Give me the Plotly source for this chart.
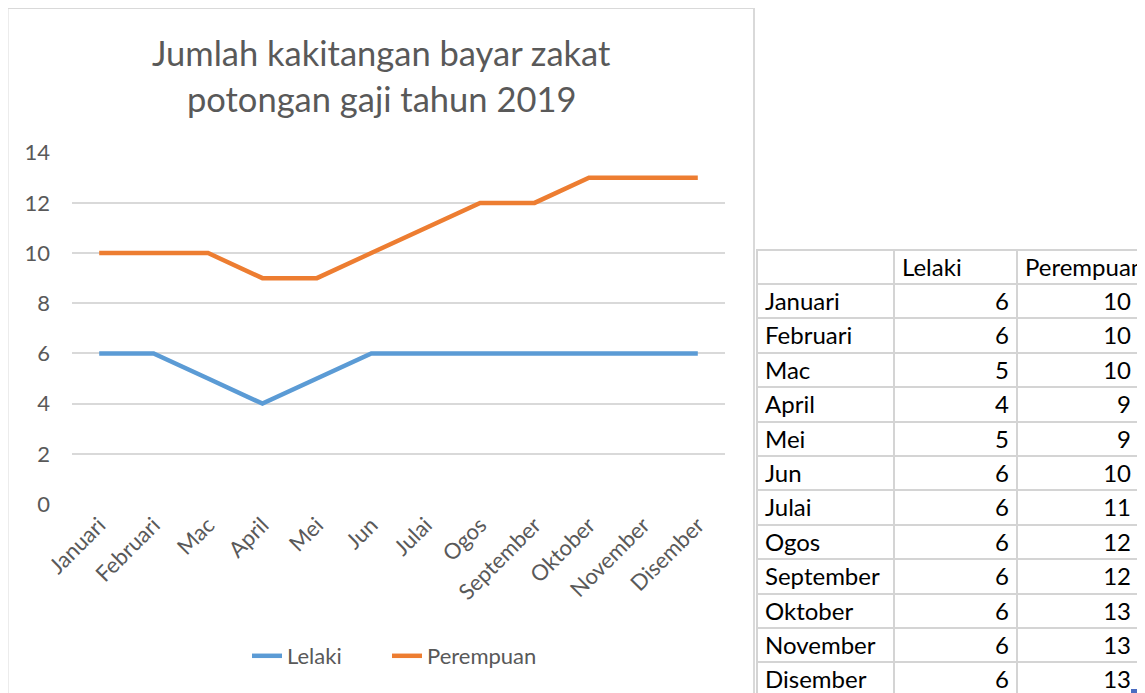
import plotly.graph_objects as go

W, H = 1145, 693
OFF = 8  # default page body margin

months = ["Januari", "Februari", "Mac", "April", "Mei", "Jun", "Julai",
          "Ogos", "September", "Oktober", "November", "Disember"]
lelaki = [6, 6, 5, 4, 5, 6, 6, 6, 6, 6, 6, 6]
perempuan = [10, 10, 10, 9, 9, 10, 11, 12, 12, 13, 13, 13]
title_lines = ["Jumlah kakitangan bayar zakat", "potongan gaji tahun 2019"]
y_ticks = [0, 2, 4, 6, 8, 10, 12, 14]

BLUE = "#5B9BD5"
ORANGE = "#ED7D31"
GREY_TXT = "#595959"
GRID = "#D9D9D9"
FONT = "Lato"


def px_x(p):
    return (p - OFF) / W


def px_y(p):
    return 1 - (p - OFF) / H


fig = go.Figure()
fig.add_trace(go.Scatter(x=months, y=lelaki, name="Lelaki", mode="lines",
                         line=dict(color=BLUE, width=4.5), legend="legend"))
fig.add_trace(go.Scatter(x=months, y=perempuan, name="Perempuan", mode="lines",
                         line=dict(color=ORANGE, width=4.5), legend="legend2"))

# Excel-style data table on the right
col_w = [137, 123, 122, 1153 - 1139]
fig.add_trace(go.Table(
    domain=dict(x=[px_x(757), 1.0], y=[0.0, px_y(249.5)]),
    columnwidth=col_w,
    header=dict(values=["", "Lelaki", "Perempuan", ""],
                align=["left", "left", "left", "left"],
                fill_color="white",
                line=dict(color="#D4D4D4", width=2),
                font=dict(family=FONT, size=24, color="black"),
                height=34.4),
    cells=dict(values=[months, lelaki, perempuan, [""] * len(months)],
               align=["left", "right", "right", "left"],
               fill_color="white",
               line=dict(color="#D4D4D4", width=2),
               font=dict(family=FONT, size=24, color="black"),
               height=34.4),
))

legend_style = dict(orientation="h", xanchor="left", yanchor="middle",
                    y=px_y(656), font=dict(size=22, color=GREY_TXT),
                    bgcolor="rgba(0,0,0,0)")

fig.update_layout(
    width=W, height=H,
    margin=dict(l=0, r=0, t=0, b=0, autoexpand=False),
    paper_bgcolor="white", plot_bgcolor="white",
    font=dict(family=FONT, color=GREY_TXT),
    xaxis=dict(domain=[px_x(72), px_x(725)], type="category",
               range=[-0.5, 11.5], showgrid=False, zeroline=False,
               showline=False, ticks="", tickangle=-45, automargin=False,
               tickfont=dict(size=22, color=GREY_TXT),
               ticklabelstandoff=3, fixedrange=True),
    yaxis=dict(domain=[px_y(504), px_y(152.7)], range=[0, 14],
               tickvals=y_ticks, showgrid=True, gridcolor=GRID,
               gridwidth=2, zeroline=False, showline=False, ticks="",
               automargin=False,
               tickfont=dict(size=22, color=GREY_TXT),
               ticklabelstandoff=21, fixedrange=True),
    legend=dict(x=px_x(247), **legend_style),
    legend2=dict(x=px_x(387), **legend_style),
    showlegend=True,
    shapes=[dict(type="rect", xref="paper", yref="paper",
                 x0=px_x(7.5), x1=px_x(754), y0=-0.05, y1=px_y(8),
                 line=dict(color=GRID, width=2), fillcolor="rgba(0,0,0,0)",
                 layer="below"),
            # Excel fill handle
            dict(type="rect", xref="paper", yref="paper",
                 x0=px_x(1131), x1=px_x(1137), y0=px_y(695), y1=px_y(689),
                 line=dict(width=0), fillcolor="#4A6CC1")],
    annotations=[
        dict(text=title_lines[0], xref="paper", yref="paper",
             x=px_x(381), y=px_y(52), xanchor="center", yanchor="middle",
             showarrow=False, font=dict(size=34.5, color=GREY_TXT, family=FONT)),
        dict(text=title_lines[1], xref="paper", yref="paper",
             x=px_x(382), y=px_y(98), xanchor="center", yanchor="middle",
             showarrow=False, font=dict(size=34.5, color=GREY_TXT, family=FONT)),
    ],
)

fig.write_html("out.html")
